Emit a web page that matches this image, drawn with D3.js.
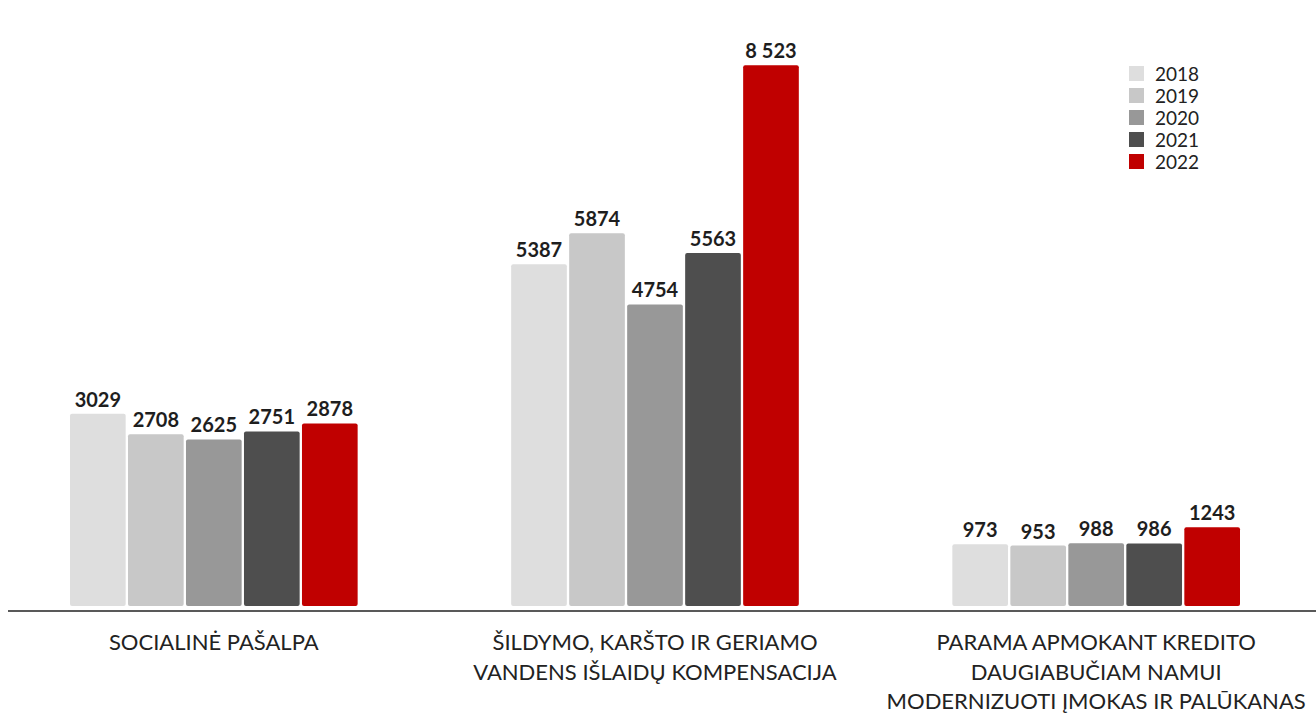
<!DOCTYPE html>
<html>
<head>
<meta charset="utf-8">
<script src="https://cdn.jsdelivr.net/npm/d3@7"></script>
<style>
  body { margin: 0; background: #fff; }
  svg { display: block; }
</style>
</head>
<body>
<div id="chart"></div>
<script>
// categories (label lines) and series
const categories = ["socialine", "sildymo", "parama"];
const categoryLines = [
    ["SOCIALINĖ PAŠALPA"],
    ["ŠILDYMO, KARŠTO IR GERIAMO", "VANDENS IŠLAIDŲ KOMPENSACIJA"],
    ["PARAMA APMOKANT KREDITO", "DAUGIABUČIAM NAMUI", "MODERNIZUOTI ĮMOKAS IR PALŪKANAS"]
];
const years = ["2018", "2019", "2020", "2021", "2022"];
const values2018 = [3029, 5387, 973];
const values2019 = [2708, 5874, 953];
const values2020 = [2625, 4754, 988];
const values2021 = [2751, 5563, 986];
const values2022 = [2878, 8523, 1243];
const seriesValues = [values2018, values2019, values2020, values2021, values2022];
// the big one was written with a space in the original
const labelOverrides = { "2022|1": "8 523" };

const width = 1316;
const height = 713;
const baseY = 606;

const svg = d3.select("#chart")
    .append("svg")
    .attr("width", width)
    .attr("height", height);

const x0 = d3.scaleBand()
    .domain(categories)
    .range([70, 1240])
    .paddingInner(0.348)
    .paddingOuter(0);

const x1 = d3.scaleBand()
    .domain(years)
    .range([0, x0.bandwidth()])
    .paddingInner(0.04);

const y = d3.scaleLinear()
    .domain([0, 9000])
    .range([baseY, 35]);

const color = d3.scaleOrdinal()
    .domain(years)
    .range(["#dedede", "#c8c8c8", "#989898", "#4e4e4e", "#c00000"]);

const rows = [];
years.forEach((yr, i) => {
    categories.forEach((c, j) => {
        rows.push({
            year: yr,
            cat: c,
            value: seriesValues[i][j],
            label: labelOverrides[yr + "|" + j] || String(seriesValues[i][j])
        });
    });
});

const groups = svg.selectAll(".group")
    .data(categories)
    .enter().append("g")
    .attr("class", "group")
    .attr("transform", d => "translate(" + x0(d) + ",0)");

groups.selectAll("rect")
    .data(c => rows.filter(r => r.cat === c))
    .enter().append("rect")
    .attr("x", d => x1(d.year))
    .attr("y", d => y(d.value))
    .attr("width", x1.bandwidth())
    .attr("height", d => y(0) - y(d.value))
    .attr("rx", 2)
    .style("fill", d => color(d.year));

groups.selectAll(".val")
    .data(c => rows.filter(r => r.cat === c))
    .enter().append("text")
    .attr("class", "val")
    .attr("x", d => x1(d.year) + x1.bandwidth() / 2)
    .attr("y", d => y(d.value) - 7)
    .style("text-anchor", "middle")
    .style("font-family", "Lato, 'Open Sans', sans-serif")
    .style("font-weight", "bold")
    .style("font-size", "20px")
    .style("fill", "#1e1e1e")
    .text(d => d.label);

// baseline
svg.append("line")
    .attr("x1", 8)
    .attr("x2", width)
    .attr("y1", baseY + 5)
    .attr("y2", baseY + 5)
    .style("stroke", "#222")
    .style("stroke-width", 1.5);

// category labels
const catText = svg.selectAll(".cat")
    .data(categories)
    .enter().append("text")
    .attr("class", "cat")
    .attr("x", d => x0(d) + x0.bandwidth() / 2)
    .attr("y", 650)
    .style("text-anchor", "middle")
    .style("font-family", "Lato, 'Open Sans', sans-serif")
    .style("font-size", "22px")
    .style("fill", "#222");

catText.selectAll("tspan")
    .data((d, i) => categoryLines[i])
    .enter().append("tspan")
    .attr("x", function() { return this.parentNode.getAttribute("x"); })
    .attr("dy", (d, i) => i === 0 ? 0 : 29.5)
    .text(d => d);

// legend
const legend = svg.selectAll(".legend")
    .data(years)
    .enter().append("g")
    .attr("class", "legend")
    .attr("transform", (d, i) => "translate(1129," + (66 + i * 22) + ")");

legend.append("rect")
    .attr("width", 15)
    .attr("height", 15)
    .style("fill", d => color(d));

legend.append("text")
    .attr("x", 26)
    .attr("y", 8)
    .attr("dy", ".35em")
    .style("font-family", "Lato, 'Open Sans', sans-serif")
    .style("font-size", "19px")
    .style("fill", "#222")
    .text(d => d);
</script>
</body>
</html>
